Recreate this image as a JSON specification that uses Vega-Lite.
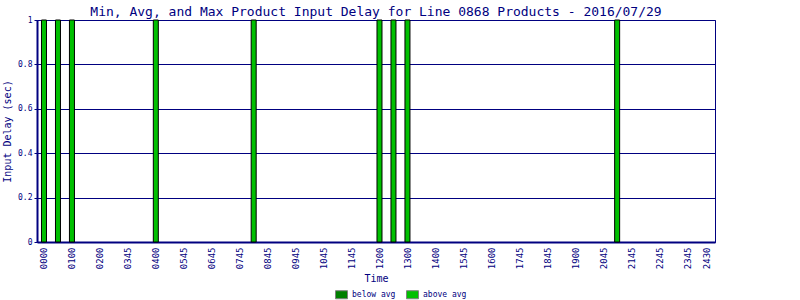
{
  "$schema": "https://vega.github.io/schema/vega-lite/v6.json",
  "width": 678,
  "height": 222,
  "autosize": {"type": "none"},
  "padding": {"left": 37, "top": 20, "right": 85, "bottom": 58},
  "background": "white",
  "title": {
    "text": "Min, Avg, and Max Product Input Delay for Line 0868 Products - 2016/07/29",
    "font": "DejaVu Sans Mono",
    "fontSize": 13,
    "fontWeight": "normal",
    "color": "#000080",
    "anchor": "middle",
    "frame": "group",
    "offset": -3
  },
  "config": {
    "view": {"stroke": "#000080", "strokeWidth": 1},
    "axis": {
      "labelFont": "DejaVu Sans Mono",
      "titleFont": "DejaVu Sans Mono",
      "labelColor": "#000080",
      "titleColor": "#000080",
      "domainColor": "#000080",
      "tickColor": "#000080",
      "gridColor": "#000080",
      "gridOpacity": 1,
      "titleFontWeight": "normal"
    },
    "legend": {
      "labelFont": "DejaVu Sans Mono",
      "labelColor": "#000080"
    }
  },
  "data": {
    "values": [
      {"slot": 0, "time": "0000", "delay": 1, "level": "above avg"},
      {"slot": 1, "time": "0030", "delay": 1, "level": "above avg"},
      {"slot": 2, "time": "0100", "delay": 1, "level": "above avg"},
      {"slot": 8, "time": "0400", "delay": 1, "level": "above avg"},
      {"slot": 15, "time": "0815", "delay": 1, "level": "above avg"},
      {"slot": 24, "time": "1200", "delay": 1, "level": "above avg"},
      {"slot": 25, "time": "1230", "delay": 1, "level": "above avg"},
      {"slot": 26, "time": "1300", "delay": 1, "level": "above avg"},
      {"slot": 41, "time": "2115", "delay": 1, "level": "above avg"}
    ]
  },
  "mark": {"type": "bar", "size": 5, "stroke": "black", "strokeWidth": 1},
  "encoding": {
    "x": {
      "field": "slot",
      "type": "quantitative",
      "scale": {"domain": [-0.5, 48], "nice": false, "zero": false, "padding": 0},
      "axis": {
        "title": "Time",
        "titleFontSize": 10,
        "titlePadding": 5,
        "values": [0, 2, 4, 6, 8, 10, 12, 14, 16, 18, 20, 22, 24, 26, 28, 30, 32, 34, 36, 38, 40, 42, 44, 46, 47.4],
        "labelExpr": "datum.value > 47 ? '2430' : ['0000','0100','0200','0345','0400','0545','0645','0745','0845','0945','1045','1145','1200','1300','1400','1545','1600','1745','1845','1900','2045','2145','2245','2345'][round(datum.value / 2)]",
        "labelAngle": 270,
        "labelAlign": "right",
        "labelBaseline": "middle",
        "labelFontSize": 9,
        "labelPadding": 5,
        "ticks": false,
        "grid": false,
        "labelOverlap": false,
        "labelFlush": false,
        "domainWidth": 2
      }
    },
    "y": {
      "field": "delay",
      "type": "quantitative",
      "scale": {"domain": [0, 1], "nice": false},
      "axis": {
        "title": "Input Delay (sec)",
        "titleFontSize": 10,
        "titlePadding": 5,
        "values": [0, 0.2, 0.4, 0.6, 0.8, 1],
        "format": "~g",
        "labelFontSize": 8,
        "tickSize": 3,
        "labelPadding": 2,
        "grid": true,
        "gridWidth": 1,
        "domainWidth": 2
      }
    },
    "color": {
      "field": "level",
      "type": "nominal",
      "scale": {"domain": ["below avg", "above avg"], "range": ["#008000", "#00C000"]},
      "legend": {
        "title": null,
        "orient": "none",
        "legendX": 298,
        "legendY": 268,
        "direction": "horizontal",
        "symbolType": "M-1,-0.67H1V0.67H-1Z",
        "symbolSize": 144,
        "symbolStrokeColor": "#808080",
        "symbolStrokeWidth": 1,
        "symbolOpacity": 1,
        "labelFontSize": 8,
        "labelOffset": 4,
        "columnPadding": 8
      }
    }
  }
}
